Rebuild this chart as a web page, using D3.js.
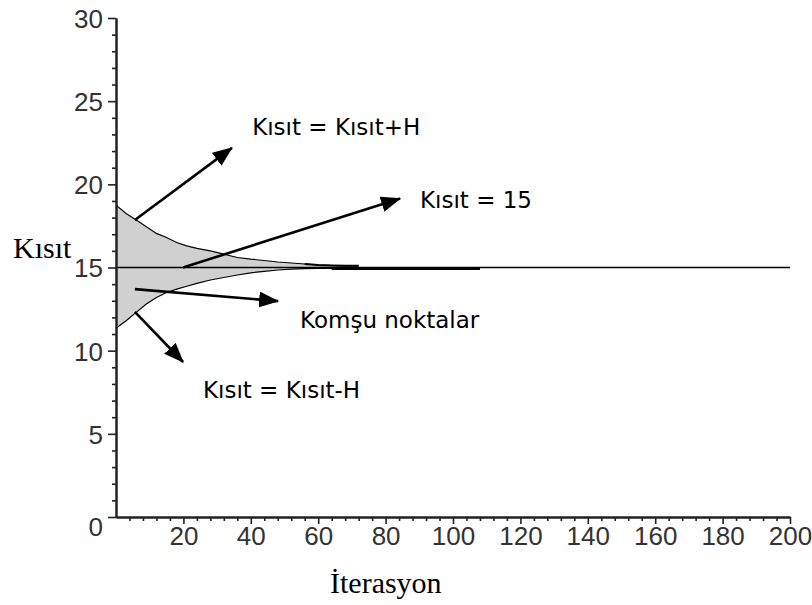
<!DOCTYPE html>
<html>
<head>
<meta charset="utf-8">
<script src="https://cdn.jsdelivr.net/npm/d3@7/dist/d3.min.js"></script>
<style>
  html, body { margin: 0; padding: 0; background: #fff; }
  svg { display: block; }
</style>
</head>
<body>
<svg id="chart" width="812" height="605"></svg>
<script>
// ---- data ----
const iterations = [0, 3, 6, 9, 12, 15, 18, 21, 24, 28, 32, 36, 40, 44, 48, 52, 56, 60, 64, 68, 72];
const upperBound = [18.75, 18.25, 17.85, 17.45, 17.05, 16.8, 16.5, 16.3, 16.15, 16.0, 15.8, 15.6, 15.5, 15.42, 15.33, 15.27, 15.21, 15.15, 15.12, 15.1, 15.1];
const lowerBound = [11.35, 11.8, 12.3, 12.8, 13.2, 13.5, 13.7, 13.87, 14.05, 14.25, 14.4, 14.55, 14.68, 14.77, 14.85, 14.9, 14.93, 14.94, 14.94, 14.93, 14.93];
const tailIterations = [64, 86, 108];
const lowerTail = [14.93, 14.93, 14.92];
const constraintValue = 15;
const xTicks = [20, 40, 60, 80, 100, 120, 140, 160, 180, 200];
const yTicks = [0, 5, 10, 15, 20, 25, 30];
const xTitle = "İterasyon";
const yTitle = "Kısıt";
// annotations in data units
const annotLabels = ["Kısıt = Kısıt+H", "Kısıt = 15", "Komşu noktalar", "Kısıt = Kısıt-H"];
const annotTextPos = [[40.4, 22.97], [90.2, 18.58], [54.6, 11.36], [25.8, 7.15]];
const arrowFrom = [[5.6, 17.86], [19.9, 15.0], [5.6, 13.7], [5.6, 12.33]];
const arrowTo = [[34.4, 22.19], [84.3, 19.15], [48.1, 12.98], [19.9, 9.32]];

// ---- layout ----
const svg = d3.select("#chart");
const x = d3.scaleLinear().domain([0, 200]).range([116, 790]);
const y = d3.scaleLinear().domain([0, 30]).range([517, 18]);

const tickFont = "'Liberation Sans', Arial, sans-serif";
const axisColor = "#222";

// band
const band = iterations.map((it, i) => ({ it, up: upperBound[i], lo: lowerBound[i] }));
svg.append("path")
  .datum(band)
  .attr("fill", "#d0d0d0")
  .attr("d", d3.area().x(d => x(d.it)).y0(d => y(d.lo)).y1(d => y(d.up)));

svg.append("path")
  .datum(band)
  .attr("fill", "none").attr("stroke", "#000").attr("stroke-width", 1.2)
  .attr("d", d3.line().x(d => x(d.it)).y(d => y(d.up)));
svg.append("path")
  .datum(band)
  .attr("fill", "none").attr("stroke", "#000").attr("stroke-width", 1.2)
  .attr("d", d3.line().x(d => x(d.it)).y(d => y(d.lo)));

// lower tail (collapsed neighbours)
svg.append("path")
  .datum(tailIterations.map((it, i) => ({ it, v: lowerTail[i] })))
  .attr("fill", "none").attr("stroke", "#000").attr("stroke-width", 2.5)
  .attr("d", d3.line().x(d => x(d.it)).y(d => y(d.v)));
// upper thick part near convergence
svg.append("path")
  .datum(band.filter(d => d.it >= 56))
  .attr("fill", "none").attr("stroke", "#000").attr("stroke-width", 2)
  .attr("d", d3.line().x(d => x(d.it)).y(d => y(d.up)));

// constraint line
svg.append("line")
  .attr("x1", x(0)).attr("x2", x(200))
  .attr("y1", y(constraintValue)).attr("y2", y(constraintValue))
  .attr("stroke", "#000").attr("stroke-width", 1.3);

// ---- axes ----
const yMinor = d3.range(0, 31, 1).filter(v => v % 5 !== 0);
const xMinor = d3.range(0, 201, 4).filter(v => v % 20 !== 0);

function styleAxis(g) {
  g.selectAll("path.domain").attr("stroke", axisColor).attr("stroke-width", 2);
  g.selectAll(".tick line").attr("stroke", axisColor).attr("stroke-width", 1.6);
}

const gyMinor = svg.append("g").attr("transform", `translate(${x(0)},0)`)
  .call(d3.axisLeft(y).tickValues(yMinor).tickSize(4).tickFormat("").tickSizeOuter(0));
styleAxis(gyMinor);
const gy = svg.append("g").attr("transform", `translate(${x(0)},0)`)
  .call(d3.axisLeft(y).tickValues(yTicks).tickSize(8).tickPadding(5).tickSizeOuter(0));
styleAxis(gy);
gy.selectAll(".tick text")
  .attr("font-family", tickFont).attr("font-size", 26).attr("fill", "#333")
  .attr("dy", d => d === 0 ? "0.72em" : "0.36em");

const gxMinor = svg.append("g").attr("transform", `translate(0,${y(0)})`)
  .call(d3.axisBottom(x).tickValues(xMinor).tickSize(4).tickFormat("").tickSizeOuter(0));
styleAxis(gxMinor);
const gx = svg.append("g").attr("transform", `translate(0,${y(0)})`)
  .call(d3.axisBottom(x).tickValues(xTicks).tickSize(7).tickPadding(3).tickSizeOuter(0));
styleAxis(gx);
gx.selectAll(".tick text")
  .attr("font-family", tickFont).attr("font-size", 26).attr("fill", "#333");

// titles
svg.append("text")
  .attr("x", 13).attr("y", 258)
  .attr("font-family", "'Liberation Serif', 'Times New Roman', serif")
  .attr("font-size", 30).attr("fill", "#000")
  .text(yTitle);
svg.append("text")
  .attr("x", 330).attr("y", 593)
  .attr("font-family", "'Liberation Serif', 'Times New Roman', serif")
  .attr("font-size", 30).attr("fill", "#000")
  .text(xTitle);

// ---- annotations ----
svg.append("defs").append("marker")
  .attr("id", "arrowhead")
  .attr("markerUnits", "userSpaceOnUse")
  .attr("viewBox", "0 0 20 16")
  .attr("markerWidth", 20).attr("markerHeight", 16)
  .attr("refX", 19).attr("refY", 8)
  .attr("orient", "auto")
  .append("path").attr("d", "M0,0 L20,8 L0,16 Z").attr("fill", "#000");

annotLabels.forEach((lbl, i) => {
  svg.append("line")
    .attr("x1", x(arrowFrom[i][0])).attr("y1", y(arrowFrom[i][1]))
    .attr("x2", x(arrowTo[i][0])).attr("y2", y(arrowTo[i][1]))
    .attr("stroke", "#000").attr("stroke-width", 2.6)
    .attr("marker-end", "url(#arrowhead)");
  svg.append("text")
    .attr("x", x(annotTextPos[i][0])).attr("y", y(annotTextPos[i][1]))
    .attr("font-family", "'DejaVu Sans', Verdana, sans-serif")
    .attr("font-size", 23).attr("fill", "#000")
    .text(lbl);
});
</script>
</body>
</html>
